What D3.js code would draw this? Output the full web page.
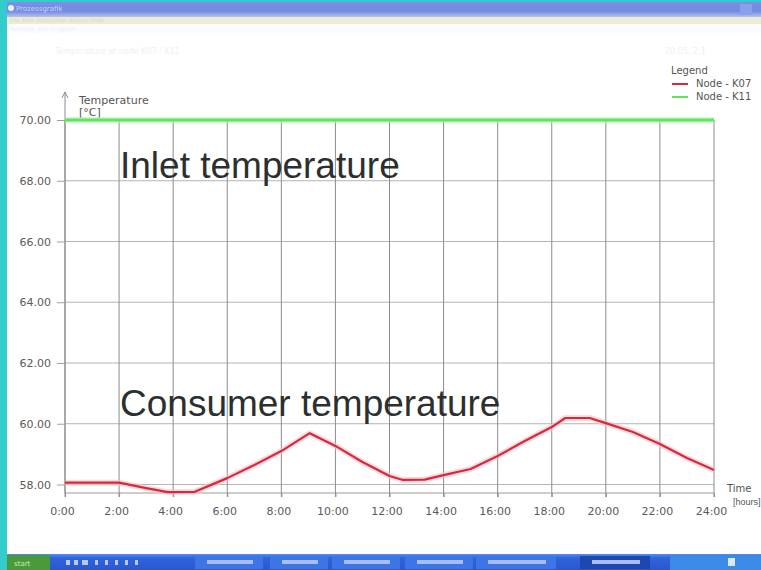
<!DOCTYPE html>
<html><head><meta charset="utf-8">
<script src="https://cdn.jsdelivr.net/npm/d3@7"></script>
<style>html,body{margin:0;padding:0;background:#fff;overflow:hidden}svg{display:block}</style>
</head><body><svg id="c" width="761" height="570"></svg>
<script>
// ---- data ----
const timeTicks = [0, 2, 4, 6, 8, 10, 12, 14, 16, 18, 20, 22, 24];
const timeLabels = ["0:00","2:00","4:00","6:00","8:00","10:00","12:00","14:00","16:00","18:00","20:00","22:00","24:00"];
const tempTicks = [58, 60, 62, 64, 66, 68, 70];
const k07Hours = [0, 2, 3, 3.8, 4.8, 6, 7, 8, 9.05, 10, 11, 12, 12.5, 13.3, 14, 15, 16, 17, 18, 18.5, 19.4, 20, 21, 22, 23, 24];
const k07Temps = [58.06, 58.06, 57.88, 57.75, 57.76, 58.21, 58.64, 59.10, 59.69, 59.27, 58.74, 58.28, 58.15, 58.16, 58.31, 58.51, 58.94, 59.43, 59.89, 60.19, 60.19, 60.02, 59.73, 59.33, 58.87, 58.48];
const k11Hours = [0, 24];
const k11Temps = [70.0, 70.0];
const seriesNames = ["Node - K07", "Node - K11"];
const seriesColors = ["#d8283c", "#5fe65f"];

const svg = d3.select("#c");
const W = 761, H = 570;
const x = d3.scaleLinear().domain([0, 24]).range([65, 714]);
const y = d3.scaleLinear().domain([57.72, 70]).range([493, 120]);

// ---- window chrome ----
const defs = svg.append("defs");
const tg = defs.append("linearGradient").attr("id","tb").attr("x1",0).attr("y1",0).attr("x2",0).attr("y2",1);
tg.append("stop").attr("offset","0").attr("stop-color","#7a92e4");
tg.append("stop").attr("offset","0.6").attr("stop-color","#728ae0");
tg.append("stop").attr("offset","1").attr("stop-color","#b4c0f0");
const bg = defs.append("linearGradient").attr("id","task").attr("x1",0).attr("y1",0).attr("x2",0).attr("y2",1);
bg.append("stop").attr("offset","0").attr("stop-color","#5a8cf0");
bg.append("stop").attr("offset","0.25").attr("stop-color","#2f63dc");
bg.append("stop").attr("offset","1").attr("stop-color","#2a58cf");

svg.append("rect").attr("width",W).attr("height",H).attr("fill","#fff");
svg.append("rect").attr("x",0).attr("y",2).attr("width",W).attr("height",15).attr("fill","url(#tb)");
svg.append("rect").attr("x",0).attr("y",17).attr("width",W).attr("height",7).attr("fill","#ecebd4");
svg.append("rect").attr("x",0).attr("y",24).attr("width",W).attr("height",9).attr("fill","#fbfcfe");
svg.append("circle").attr("cx",11).attr("cy",8).attr("r",3).attr("fill","#eef2ff");
svg.append("text").attr("x",16).attr("y",11).attr("font-family","DejaVu Sans").attr("font-size",7).attr("fill","#c8d2f6").text("Prozessgrafik");
svg.append("text").attr("x",10).attr("y",22).attr("font-family","DejaVu Sans").attr("font-size",6).attr("fill","#dcdcc4").text("File  Edit  Simulation  Extras  Help");
svg.append("rect").attr("x",740).attr("y",4).attr("width",12).attr("height",11).attr("fill","#8aa0ea");
svg.append("text").attr("x",10).attr("y",31).attr("font-family","DejaVu Sans").attr("font-size",6).attr("fill","#eef0f4").text("Network plot   Diagram");
svg.append("text").attr("x",55).attr("y",54).attr("font-family","DejaVu Sans").attr("font-size",8).attr("fill","#f0f0f0").text("Temperature at     node K07 / K11          -");
svg.append("text").attr("x",665).attr("y",54).attr("font-family","DejaVu Sans").attr("font-size",8).attr("fill","#f0f0f0").text("20.05. 2:1");

// taskbar
svg.append("rect").attr("x",0).attr("y",554).attr("width",W).attr("height",16).attr("fill","url(#task)");
svg.append("rect").attr("x",7).attr("y",555).attr("width",43).attr("height",15).attr("fill","#4a9a3c");
svg.append("text").attr("x",14).attr("y",566).attr("font-family","DejaVu Sans").attr("font-size",7).attr("fill","#cfe8c8").text("start");
[[66,4],[74,4],[82,6],[95,3],[105,3],[115,3],[125,3],[135,3]].forEach(d=>{
  svg.append("rect").attr("x",d[0]).attr("y",560).attr("width",d[1]).attr("height",5).attr("fill","#b8c8f0");
});
[[195,68],[270,58],[332,68],[405,68],[476,80],[580,70]].forEach((d,i)=>{
  svg.append("rect").attr("x",d[0]).attr("y",556).attr("width",d[1]).attr("height",13).attr("fill", i===5 ? "#1f47b0" : "#3d74e6");
  svg.append("rect").attr("x",d[0]+12).attr("y",560).attr("width",d[1]-22).attr("height",4).attr("fill","#a9bdf0");
});
svg.append("rect").attr("x",670).attr("y",555).attr("width",91).attr("height",15).attr("fill","#3b8ae8");
svg.append("rect").attr("x",728).attr("y",558).attr("width",7).attr("height",8).attr("fill","#d8e8ff");

// left cyan border
svg.append("rect").attr("x",0).attr("y",0).attr("width",W).attr("height",2).attr("fill","#33cccc");
svg.append("rect").attr("x",0).attr("y",0).attr("width",7).attr("height",H).attr("fill","#33cccc");

// ---- grid ----
const grid = svg.append("g");
grid.selectAll("line.h").data(tempTicks).join("line")
  .attr("x1",x(0)).attr("x2",x(24)).attr("y1",d=>y(d)).attr("y2",d=>y(d))
  .attr("stroke","#b4b4b4").attr("stroke-width",1);
grid.selectAll("line.v").data(timeTicks).join("line")
  .attr("x1",d=>x(d)).attr("x2",d=>x(d)).attr("y1",y(70)).attr("y2",y.range()[0]+4)
  .attr("stroke","#8c8c8c").attr("stroke-width",1);

// x axis
const xAxis = d3.axisBottom(x).tickValues(timeTicks).tickFormat((d,i)=>timeLabels[i]).tickSize(4).tickPadding(10);
const gx = svg.append("g").attr("transform",`translate(0,${y.range()[0]})`).call(xAxis);
gx.select(".domain").attr("stroke","#9a9a9a").attr("d",`M${x(0)},0H${x(24)}`);
gx.selectAll(".tick line").attr("stroke","#8c8c8c");
gx.selectAll(".tick text").attr("font-family","DejaVu Sans").attr("font-size",11).attr("fill","#5a5a5a").attr("dx",-3);

// y axis
const yAxis = d3.axisLeft(y).tickValues(tempTicks).tickFormat(d3.format(".2f")).tickSize(8).tickPadding(6);
const gy = svg.append("g").attr("transform",`translate(${x(0)},0)`).call(yAxis);
gy.select(".domain").attr("stroke","#8c8c8c").attr("d",`M0,${y.range()[0]}V92`);
gy.selectAll(".tick line").attr("stroke","#a0a0a0");
gy.selectAll(".tick text").attr("font-family","DejaVu Sans").attr("font-size",11).attr("fill","#5a5a5a");
gy.append("path").attr("d","M-3,98L0,92L3,98").attr("fill","none").attr("stroke","#8c8c8c");

// axis titles
svg.append("text").attr("x",79).attr("y",104).attr("font-family","DejaVu Sans").attr("font-size",11).attr("fill","#555").text("Temperature");
svg.append("text").attr("x",79).attr("y",116).attr("font-family","DejaVu Sans").attr("font-size",11).attr("fill","#555").text("[°C]");
svg.append("text").attr("x",727).attr("y",492).attr("font-family","DejaVu Sans").attr("font-size",10).attr("fill","#555").text("Time");
svg.append("text").attr("x",733).attr("y",505).attr("font-family","Liberation Sans Narrow, Liberation Sans").attr("font-size",9).attr("fill","#555").text("[hours]");

// ---- lines ----
const line = d3.line().x(d=>x(d[0])).y(d=>y(d[1]));
const k07 = k07Hours.map((h,i)=>[h,k07Temps[i]]);
const k11 = k11Hours.map((h,i)=>[h,k11Temps[i]]);
svg.append("path").datum(k11).attr("d",line).attr("fill","none").attr("stroke","#b6f4b6").attr("stroke-width",6).attr("opacity",0.6);
svg.append("path").datum(k11).attr("d",line).attr("fill","none").attr("stroke",seriesColors[1]).attr("stroke-width",3);
svg.append("path").datum(k07).attr("d",line).attr("fill","none").attr("stroke","#f6c4cc").attr("stroke-width",6).attr("opacity",0.6).attr("stroke-linejoin","round");
svg.append("path").datum(k07).attr("d",line).attr("fill","none").attr("stroke",seriesColors[0]).attr("stroke-width",2.2).attr("stroke-linejoin","round");

// ---- legend ----
const lg = svg.append("g").attr("font-family","DejaVu Sans").attr("font-size",10).attr("fill","#555");
lg.append("text").attr("x",671).attr("y",74).text("Legend");
seriesNames.forEach((n,i)=>{
  const yy = 84 + i*13;
  lg.append("line").attr("x1",672).attr("x2",688).attr("y1",yy).attr("y2",yy).attr("stroke",seriesColors[i]).attr("stroke-width",2);
  lg.append("text").attr("x",696).attr("y",yy+3).text(n);
});

// ---- annotations ----
svg.append("text").attr("x",120).attr("y",178).attr("font-family","Liberation Sans, Arial, sans-serif").attr("font-size",37).attr("fill","#2b2f2f").text("Inlet temperature");
svg.append("text").attr("x",120).attr("y",416).attr("font-family","Liberation Sans, Arial, sans-serif").attr("font-size",37).attr("fill","#2b2f2f").text("Consumer temperature");
</script></body></html>
